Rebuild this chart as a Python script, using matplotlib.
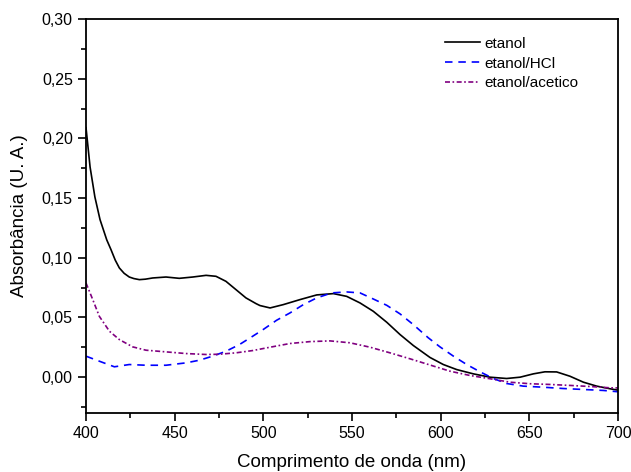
import matplotlib.pyplot as plt
from matplotlib.ticker import MultipleLocator, FuncFormatter

plt.rcParams['font.family'] = ['Liberation Sans', 'DejaVu Sans']

# Espectros (nm, absorbancia)
wl_etanol = [400, 402.3, 405, 407.9, 411.7, 414.1, 416.5, 418.8, 421.5, 424.4, 427, 430.1, 433.5,
             437.6, 445.1, 452.6, 460.2, 467.7, 473.3, 478.9, 484.6, 490.2, 495.9, 498.1,
             503.8, 511.3, 520.7, 530.1, 539.5, 547, 554.5, 562, 569.6, 577.1, 584.6, 594,
             601.5, 609, 618.4, 627.8, 637.2, 644.8, 652.3, 658.8, 665.4, 672.9, 680.5, 688,
             695.5, 700]
abs_etanol = [0.209, 0.176, 0.151, 0.132, 0.115, 0.1068, 0.098, 0.0915, 0.087, 0.0839, 0.0826,
              0.0817, 0.0821, 0.0831, 0.0839, 0.0828, 0.0839, 0.0853, 0.0845, 0.0803, 0.0733,
              0.0664, 0.0616, 0.060, 0.058, 0.0608, 0.065, 0.0689, 0.070, 0.0677, 0.0622,
              0.0552, 0.046, 0.0357, 0.0265, 0.0165, 0.0106, 0.0064, 0.0028, 0.0, -0.0011,
              0.0, 0.0028, 0.0045, 0.0044, 0.0008, -0.0042, -0.0075, -0.0097, -0.0109]

wl_hcl = [400, 407.5, 416, 424.4, 433.8, 445.1, 456.4, 463.9, 471.4, 478.9, 486.5, 494, 500,
          507.5, 515, 522.6, 530.1, 538.6, 547, 554.5, 562, 569.6, 577.1, 584.6, 593, 599.6,
          607.2, 614.7, 622.2, 629.7, 637.2, 646.6, 657.9, 669.2, 680.5, 691.7, 700]
abs_hcl = [0.0176, 0.0134, 0.0087, 0.0106, 0.0100, 0.0100, 0.012, 0.0142, 0.0176, 0.0217,
           0.0273, 0.0343, 0.040, 0.0477, 0.0538, 0.0608, 0.0664, 0.0706, 0.0714, 0.0706,
           0.0655, 0.0602, 0.053, 0.044, 0.033, 0.0254, 0.0176, 0.0106, 0.0045, -0.0011,
           -0.0053, -0.0075, -0.0084, -0.0095, -0.0103, -0.0111, -0.0122]

wl_acetico = [400, 403.8, 407.5, 413.2, 418.8, 426.3, 433.8, 445.1, 456.4, 467.7, 475.2, 484.6,
              494, 503.8, 515, 526.3, 537.6, 548.9, 560.2, 571.4, 582.7, 594, 605.3, 616.6,
              627.8, 639.1, 650.4, 661.7, 672.9, 684.2, 695.5, 700]
abs_acetico = [0.0789, 0.065, 0.051, 0.0385, 0.0315, 0.0254, 0.0226, 0.0212, 0.0198, 0.019,
               0.0192, 0.0204, 0.0223, 0.0251, 0.0282, 0.0298, 0.0304, 0.0288, 0.0251, 0.0204,
               0.0154, 0.0102, 0.005, 0.0014, -0.0013, -0.0042, -0.0055, -0.0061, -0.0069,
               -0.0078, -0.0089, -0.009]

fig = plt.figure(figsize=(6.31, 4.72), dpi=100)
ax = fig.add_axes([0.1363, 0.125, 0.8431, 0.8347])

ax.plot(wl_etanol, abs_etanol, color='black', lw=1.2, label='etanol')
ax.plot(wl_hcl, abs_hcl, color='#0000ff', lw=1.2, ls=(0, (4.5, 3.5)), label='etanol/HCl')
ax.plot(wl_acetico, abs_acetico, color='#800080', lw=1.2, ls=(0, (3, 1.5, 1, 1.5)),
        label='etanol/acetico')

ax.set_xlim(400, 700)
ax.set_ylim(-0.03, 0.30)
ax.xaxis.set_major_locator(MultipleLocator(50))
ax.xaxis.set_minor_locator(MultipleLocator(25))
ax.yaxis.set_major_locator(MultipleLocator(0.05))
ax.yaxis.set_minor_locator(MultipleLocator(0.025))
ax.yaxis.set_major_formatter(FuncFormatter(lambda v, p: f'{v:.2f}'.replace('.', ',').replace('-0,00', '0,00')))

ax.tick_params(which='major', direction='out', length=6, width=1.2, labelsize=11.5)
ax.tick_params(which='minor', direction='out', length=3.5, width=1.2)
for s in ax.spines.values():
    s.set_linewidth(1.3)

ax.set_xlabel('Comprimento de onda (nm)', fontsize=13.5, labelpad=9)
ax.set_ylabel('Absorbância (U. A.)', fontsize=13.5, labelpad=10)

ax.legend(loc='upper left', bbox_to_anchor=(0.675, 0.955), frameon=False, fontsize=11,
          handlelength=2.3, handletextpad=0.25, labelspacing=0.38, borderpad=0,
          borderaxespad=0)

fig.savefig('out.png', dpi=100)
